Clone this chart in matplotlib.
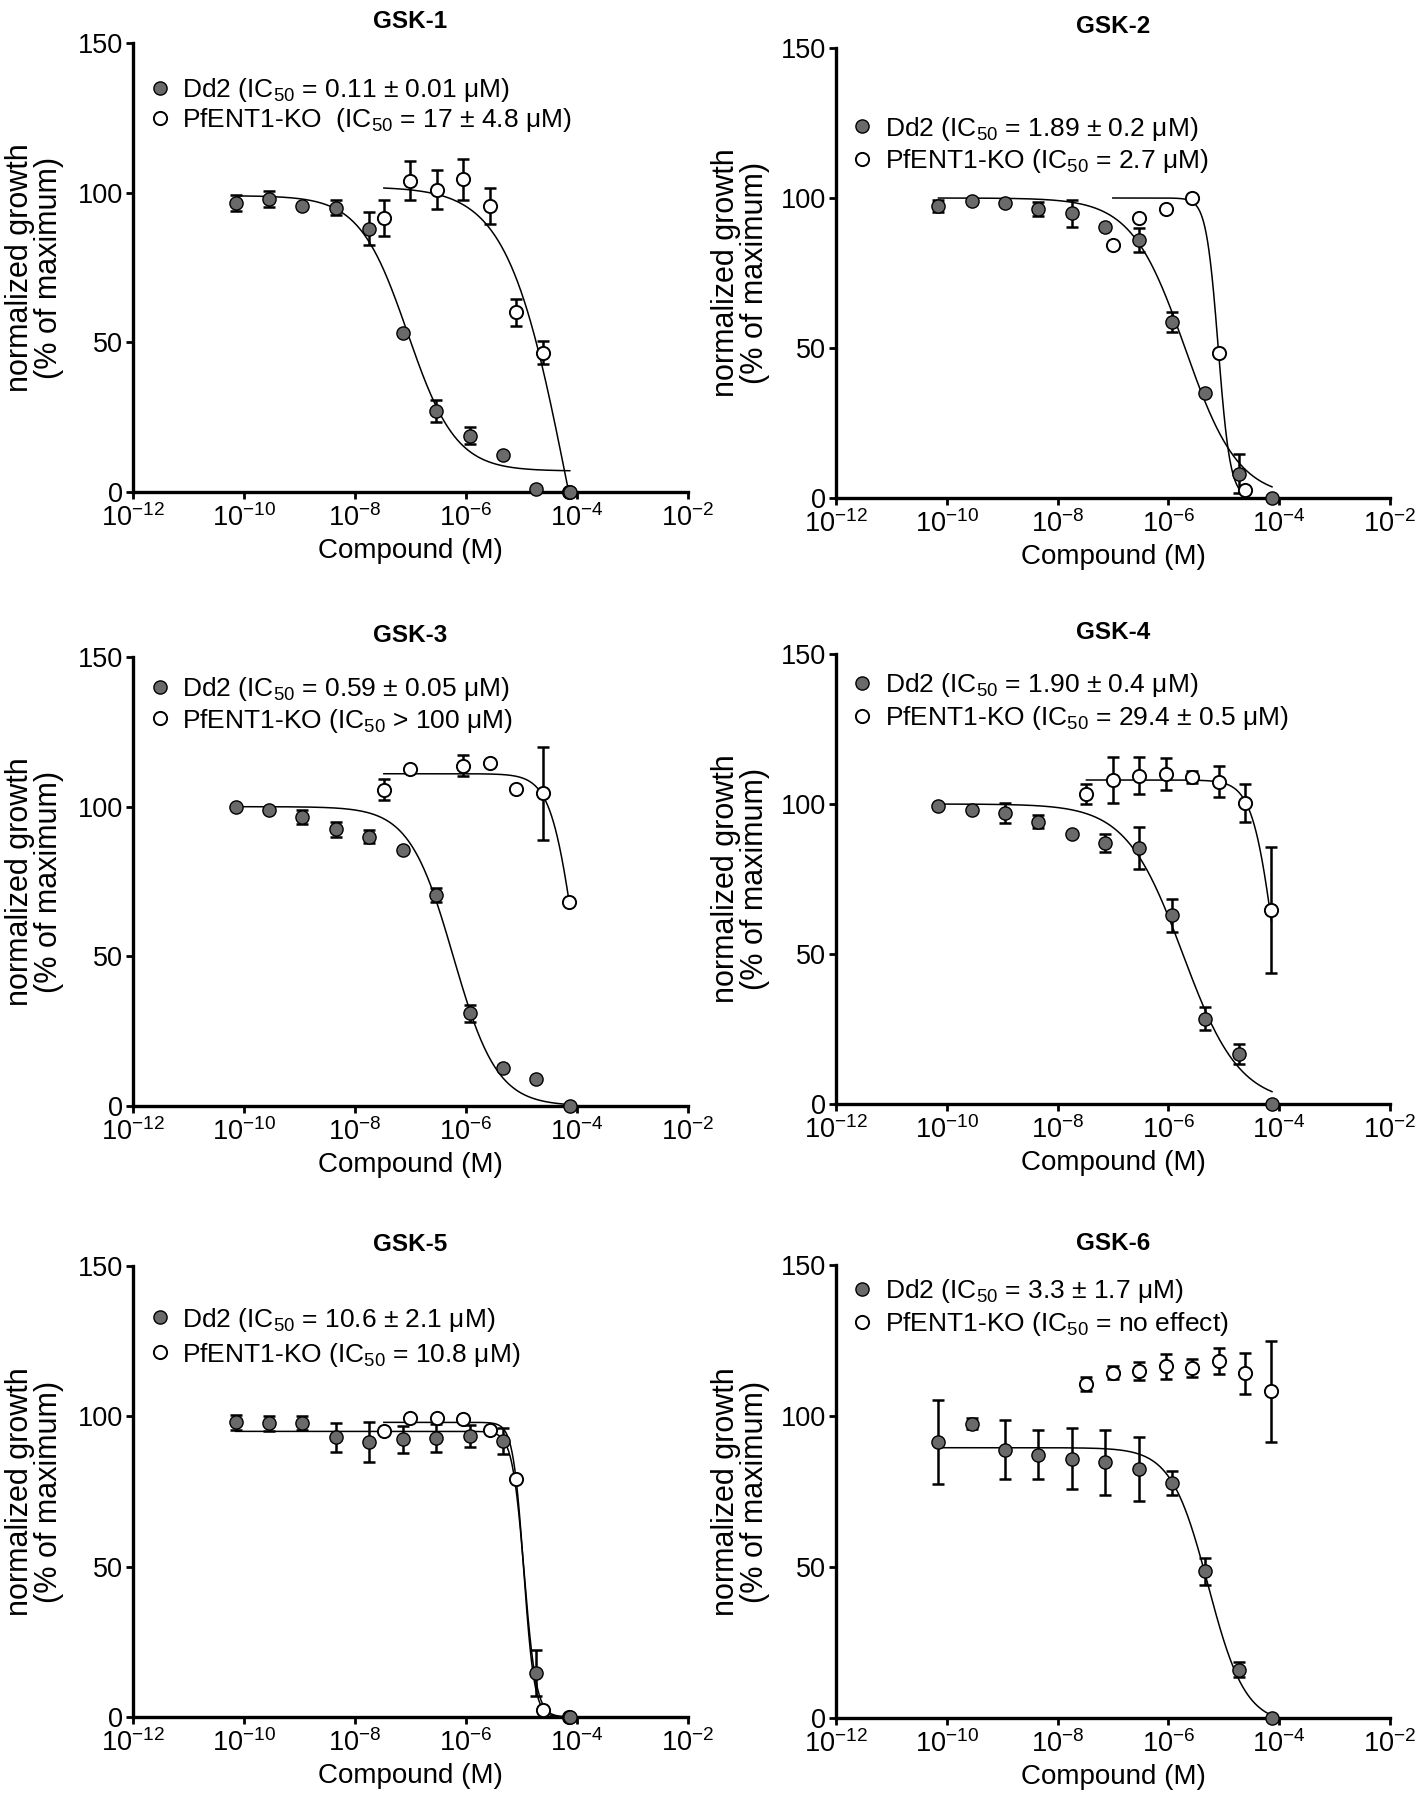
import numpy as np
import matplotlib
matplotlib.use('Agg')
import matplotlib.pyplot as plt
from matplotlib.lines import Line2D
from matplotlib.ticker import FixedLocator, NullLocator, FixedFormatter

FONT = 'Liberation Sans'
plt.rcParams['font.family'] = [FONT, 'DejaVu Sans']
plt.rcParams['mathtext.fontset'] = 'custom'
plt.rcParams['mathtext.rm'] = FONT
plt.rcParams['mathtext.it'] = FONT + ':italic'
plt.rcParams['mathtext.bf'] = FONT + ':bold'
plt.rcParams['mathtext.default'] = 'regular'

# ---------------- data ----------------
# Dd2: 4-fold dilution series (M); PfENT1-KO: 3-fold dilution series (M)
DD2_CONC = [7.07e-11, 2.83e-10, 1.13e-9, 4.52e-9, 1.81e-8, 7.24e-8,
            2.89e-7, 1.16e-6, 4.63e-6, 1.85e-5, 7.41e-5]
KO_CONC = [3.31e-8, 9.93e-8, 2.98e-7, 8.94e-7, 2.68e-6, 8.04e-6,
           2.41e-5, 7.24e-5]

TITLES = ['GSK-1', 'GSK-2', 'GSK-3', 'GSK-4', 'GSK-5', 'GSK-6']

DD2_LABELS = ['Dd2 (IC$_{50}$ = 0.11 \u00b1 0.01 \u03bcM)',
              'Dd2 (IC$_{50}$ = 1.89 \u00b1 0.2 \u03bcM)',
              'Dd2 (IC$_{50}$ = 0.59 \u00b1 0.05 \u03bcM)',
              'Dd2 (IC$_{50}$ = 1.90 \u00b1 0.4 \u03bcM)',
              'Dd2 (IC$_{50}$ = 10.6 \u00b1 2.1 \u03bcM)',
              'Dd2 (IC$_{50}$ = 3.3 \u00b1 1.7 \u03bcM)']
KO_LABELS = ['PfENT1-KO  (IC$_{50}$ = 17 \u00b1 4.8 \u03bcM)',
             'PfENT1-KO (IC$_{50}$ = 2.7 \u03bcM)',
             'PfENT1-KO (IC$_{50}$ > 100 \u03bcM)',
             'PfENT1-KO (IC$_{50}$ = 29.4 \u00b1 0.5 \u03bcM)',
             'PfENT1-KO (IC$_{50}$ = 10.8 \u03bcM)',
             'PfENT1-KO (IC$_{50}$ = no effect)']

# GSK-1
gsk1_dd2 = [96.5, 98, 95.6, 95, 88, 53, 27, 18.75, 12.5, 1, 0]
gsk1_dd2_err = [2.7, 2.7, 0, 2.5, 5.5, 0, 3.6, 2.8, 0, 0, 0]
gsk1_ko_conc = KO_CONC[0:8]
gsk1_ko = [91.6, 104, 101, 104.4, 95.6, 60, 46.5, 0]
gsk1_ko_err = [6, 6.5, 6.5, 6.8, 6, 4.4, 3.8, 0]
gsk1_dd2_fit = [99, 7, -7.05, 1.0]      # top, bottom, logIC50, hill
gsk1_ko_fit = [102, -100, -4.16, 0.8]

# GSK-2
gsk2_dd2 = [97.4, 99, 98.5, 96.4, 94.9, 90.4, 86, 58.6, 34.9, 8.1, 0]
gsk2_dd2_err = [2, 0, 0, 2.4, 4.4, 0, 4, 3.3, 0, 6.5, 0]
gsk2_ko_conc = KO_CONC[1:7]
gsk2_ko = [84.5, 93.5, 96.4, 99.9, 48.4, 2.6]
gsk2_ko_err = [0, 0, 0, 0, 0, 0]
gsk2_dd2_fit = [100, 0, -5.7, 0.9]
gsk2_ko_fit = [100, 0, -5.1, 4.0]

# GSK-3
gsk3_dd2 = [99.9, 99, 96.5, 92.5, 90, 85.6, 70.4, 31, 12.75, 9, 0]
gsk3_dd2_err = [0, 0, 2.3, 2.5, 2.2, 0, 2.3, 2.8, 0, 0, 0]
gsk3_ko_conc = [KO_CONC[0], KO_CONC[1], KO_CONC[3], KO_CONC[4],
                KO_CONC[5], KO_CONC[6], KO_CONC[7]]
gsk3_ko = [105.6, 112.75, 113.75, 114.6, 106, 104.4, 68]
gsk3_ko_err = [3.5, 0, 3.5, 0, 0, 15.6, 0]
gsk3_dd2_fit = [100, 0, -6.23, 1.1]
gsk3_ko_fit = [111, 0, -4.04, 2.0]

# GSK-4
gsk4_dd2 = [99.5, 97.9, 97, 94.1, 90.1, 86.9, 85.4, 62.9, 28.5, 16.6, 0]
gsk4_dd2_err = [0, 0, 3.4, 2.1, 0, 3, 7, 5.6, 3.9, 3.4, 0]
gsk4_ko_conc = KO_CONC[0:8]
gsk4_ko = [103.25, 107.9, 109.5, 110.1, 109.1, 107.5, 100.4, 64.75]
gsk4_ko_err = [3.4, 7.7, 6.3, 5.4, 2, 5.3, 6.3, 21]
gsk4_dd2_fit = [100, 0, -5.74, 0.85]
gsk4_ko_fit = [108, 0, -4.09, 2.2]

# GSK-5
gsk5_dd2 = [98, 97.7, 97.7, 93, 91.4, 92.3, 92.9, 93.4, 91.8, 14.6, 0]
gsk5_dd2_err = [2.5, 2.5, 2.4, 4.9, 6.7, 4.4, 4.7, 3.6, 4.3, 7.7, 0]
gsk5_ko_conc = KO_CONC[0:8]
gsk5_ko = [95.2, 99.4, 99.6, 99, 95.4, 79, 2.4, 0]
gsk5_ko_err = [0, 0, 0, 0, 0, 0, 0, 0]
gsk5_dd2_fit = [95, 0, -4.95, 4.0]
gsk5_ko_fit = [98, 0, -4.96, 4.5]

# GSK-6
gsk6_dd2 = [91.4, 97.5, 88.9, 87.2, 85.9, 84.7, 82.5, 77.7, 48.6, 16, 0]
gsk6_dd2_err = [14, 1.8, 9.8, 8.2, 10, 10.8, 10.6, 4, 4.5, 2.5, 0]
gsk6_ko_conc = KO_CONC[0:8]
gsk6_ko = [110.6, 114.4, 114.8, 116.5, 116, 118.2, 114.2, 108.2]
gsk6_ko_err = [2.2, 2.1, 3, 4.1, 3, 4.3, 6.8, 16.8]
gsk6_dd2_fit = [89.5, -2, -5.28, 1.3]
gsk6_ko_fit = None   # no fit drawn

PANELS = [
    (gsk1_dd2, gsk1_dd2_err, gsk1_ko_conc, gsk1_ko, gsk1_ko_err, gsk1_dd2_fit, gsk1_ko_fit),
    (gsk2_dd2, gsk2_dd2_err, gsk2_ko_conc, gsk2_ko, gsk2_ko_err, gsk2_dd2_fit, gsk2_ko_fit),
    (gsk3_dd2, gsk3_dd2_err, gsk3_ko_conc, gsk3_ko, gsk3_ko_err, gsk3_dd2_fit, gsk3_ko_fit),
    (gsk4_dd2, gsk4_dd2_err, gsk4_ko_conc, gsk4_ko, gsk4_ko_err, gsk4_dd2_fit, gsk4_ko_fit),
    (gsk5_dd2, gsk5_dd2_err, gsk5_ko_conc, gsk5_ko, gsk5_ko_err, gsk5_dd2_fit, gsk5_ko_fit),
    (gsk6_dd2, gsk6_dd2_err, gsk6_ko_conc, gsk6_ko, gsk6_ko_err, gsk6_dd2_fit, gsk6_ko_fit),
]

XTICKS = [1e-12, 1e-10, 1e-8, 1e-6, 1e-4, 1e-2]
XTICKLABELS = ['$10^{-12}$', '$10^{-10}$', '$10^{-8}$', '$10^{-6}$', '$10^{-4}$', '$10^{-2}$']
YTICKS = [0, 50, 100, 150]

# ---------------- layout (pixels: left, top, right, bottom) ----------------
W, H = 1418, 1800
BOXES = [(133, 43, 688, 492), (836, 48, 1390, 498),
         (133, 657, 688, 1106), (836, 654, 1390, 1104),
         (133, 1266, 688, 1717), (836, 1265, 1390, 1718)]
LEG_ROW1 = [0.893, 0.818, 0.925, 0.9275, 0.878, 0.94]
LEG_SPACING = [0.08, 0.17, 0.12, 0.18, 0.26, 0.2]
YLABEL_X = [-0.177, -0.172, -0.177, -0.172, -0.177, -0.172]

GRAY = '#6a6a6a'
TICK_FS = 19.5
LABEL_FS = 20
YLABEL_FS = 22
LEG_FS = 19
TITLE_FS = 17.5


def four_pl(logx, p):
    top, bottom, logic50, hill = p
    return bottom + (top - bottom) / (1 + 10 ** ((logx - logic50) * hill))


fig = plt.figure(figsize=(W / 100, H / 100), dpi=100)

for i, (box, panel) in enumerate(zip(BOXES, PANELS)):
    dd2, dd2_err, ko_conc, ko, ko_err, dd2_fit, ko_fit = panel
    l, t, r, b = box
    ax = fig.add_axes([l / W, 1 - b / H, (r - l) / W, (b - t) / H])
    ax.set_xscale('log')
    ax.set_xlim(1e-12, 1e-2)
    ax.set_ylim(0, 150)

    # fitted curves
    for conc, fit in ((DD2_CONC, dd2_fit), (ko_conc, ko_fit)):
        if fit is None:
            continue
        lx = np.linspace(np.log10(min(conc)), np.log10(max(conc)), 400)
        ax.plot(10 ** lx, four_pl(lx, fit), color='black', lw=1.1, zorder=2)

    # error bars
    for conc, y, e, z in ((ko_conc, ko, ko_err, 3), (DD2_CONC, dd2, dd2_err, 3.5)):
        c = np.array(conc); y = np.array(y, float); e = np.array(e, float)
        m = e > 0
        ax.errorbar(c[m], y[m], yerr=e[m], fmt='none', ecolor='black',
                    elinewidth=1.8, capsize=4.5, capthick=1.8, zorder=z,
                    clip_on=False)

    # markers
    ax.plot(ko_conc, ko, linestyle='none', marker='o', markersize=9.5,
            markerfacecolor='white', markeredgecolor='black', markeredgewidth=1.4,
            zorder=4, clip_on=False)
    ax.plot(DD2_CONC, dd2, linestyle='none', marker='o', markersize=9.5,
            markerfacecolor=GRAY, markeredgecolor='black', markeredgewidth=1.0,
            zorder=5, clip_on=False)

    # axes styling
    for s in ('top', 'right'):
        ax.spines[s].set_visible(False)
    for s in ('left', 'bottom'):
        ax.spines[s].set_linewidth(2.4)
    ax.xaxis.set_major_locator(FixedLocator(XTICKS))
    ax.xaxis.set_major_formatter(FixedFormatter(XTICKLABELS))
    ax.xaxis.set_minor_locator(NullLocator())
    ax.set_yticks(YTICKS)
    ax.tick_params(axis='both', which='major', length=5, width=2.0,
                   labelsize=TICK_FS, direction='out')
    ax.tick_params(axis='y', pad=2)
    ax.tick_params(axis='x', pad=4)

    ax.set_title(TITLES[i], fontsize=TITLE_FS, fontweight='bold', pad=11)
    ax.set_xlabel('Compound (M)', fontsize=LABEL_FS)
    ax.xaxis.label.set_va('center')
    ax.xaxis.set_label_coords(0.5, -0.131)
    ax.set_ylabel('normalized growth\n(% of maximum)', fontsize=YLABEL_FS,
                  linespacing=0.95)
    ax.yaxis.label.set_va('center')
    ax.yaxis.set_label_coords(YLABEL_X[i], 0.5)

    handles = [Line2D([], [], linestyle='none', marker='o', markersize=9.5,
                      markerfacecolor=GRAY, markeredgecolor='black', markeredgewidth=1.0),
               Line2D([], [], linestyle='none', marker='o', markersize=9.5,
                      markerfacecolor='white', markeredgecolor='black', markeredgewidth=1.4)]
    ax.legend(handles, [DD2_LABELS[i], KO_LABELS[i]], loc='upper left',
              bbox_to_anchor=(0.024, LEG_ROW1[i] + 0.034), frameon=False,
              borderpad=0, borderaxespad=0, handlelength=1.0, handletextpad=0.37,
              labelspacing=LEG_SPACING[i], fontsize=LEG_FS)

fig.savefig('out.png', dpi=100)
